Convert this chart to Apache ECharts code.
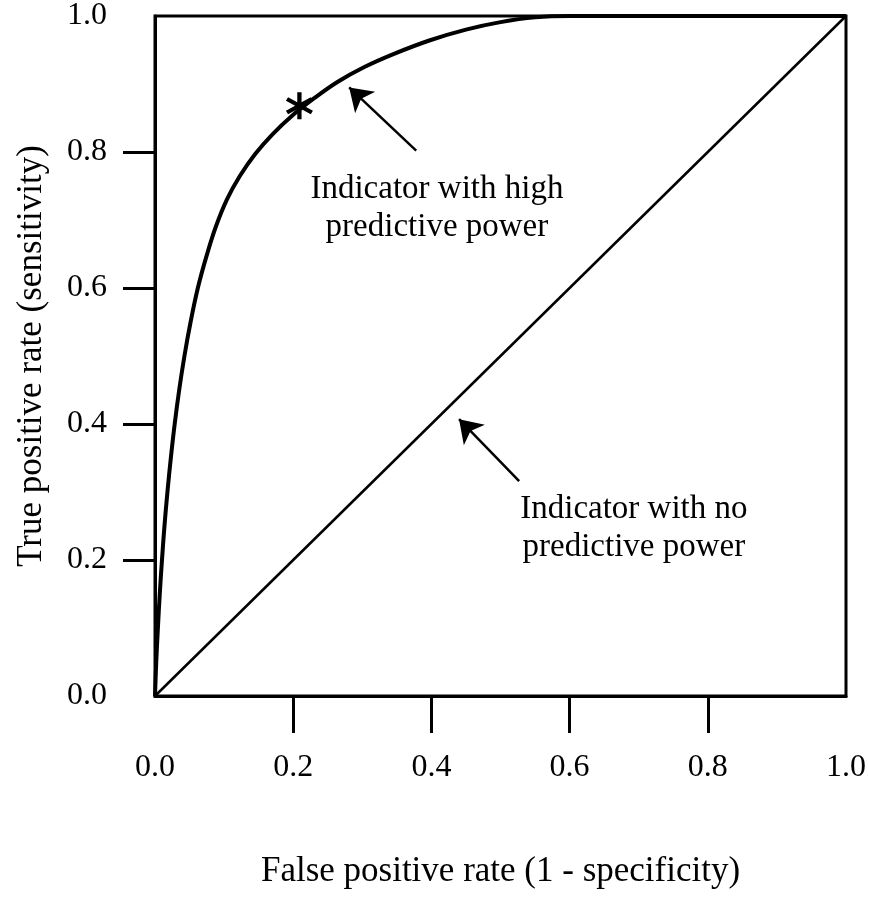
<!DOCTYPE html>
<html>
<head>
<meta charset="utf-8">
<script src="https://cdn.jsdelivr.net/npm/echarts@6/dist/echarts.min.js"></script>
<style>
  html, body { margin: 0; padding: 0; background: #fff; }
  #main { width: 869px; height: 900px; }
</style>
</head>
<body>
<div id="main"></div>
<script>
// ROC curve
const fprHigh = [0, 0.0018, 0.0042, 0.0069, 0.0101, 0.0137, 0.018, 0.0229, 0.0285, 0.035, 0.0426, 0.0515, 0.062, 0.074, 0.088, 0.104, 0.123, 0.145, 0.170, 0.198, 0.229, 0.264, 0.303, 0.345, 0.397, 0.45, 0.50, 0.55, 0.60, 0.80, 1.0];
const tprHigh = [0, 0.05, 0.10, 0.15, 0.20, 0.25, 0.30, 0.35, 0.40, 0.45, 0.50, 0.55, 0.60, 0.645, 0.69, 0.73, 0.765, 0.797, 0.826, 0.853, 0.878, 0.903, 0.925, 0.944, 0.964, 0.980, 0.991, 0.998, 1.0, 1.0, 1.0];
// no predictive power
const fprNone = [0, 1];
const tprNone = [0, 1];
// chosen cut-off point (asterisk)
const cutPoint = [0.209, 0.868];
// annotations: text and arrows
const noteTexts = ['Indicator with high\npredictive power', 'Indicator with no\npredictive power'];
const notePos = [[0.408, 0.717], [0.693, 0.247]];
const arrowFrom = [[0.378, 0.802], [0.527, 0.316]];
const arrowTo = [[0.281, 0.895], [0.440, 0.407]];
const tickLabels = [0, 0.2, 0.4, 0.6, 0.8, 1.0];
const tickMarks = [0.2, 0.4, 0.6, 0.8];

const font = 'Liberation Serif';
const asterisk = 'path://M-1.5,-10L1.5,-10L1.5,10L-1.5,10Z' +
  'M-9.41,-3.7L-7.91,-6.3L9.41,3.7L7.91,6.3Z' +
  'M-7.91,6.3L-9.41,3.7L7.91,-6.3L9.41,-3.7Z';

let chart = echarts.init(document.getElementById('main'));

function axis(name, gap, margin, tickLen) {
  return {
    type: 'value',
    min: 0,
    max: 1,
    interval: 0.2,
    name: name,
    nameLocation: 'middle',
    nameGap: gap,
    nameTextStyle: { fontSize: 35, color: '#000', fontFamily: font },
    axisLine: { show: true, lineStyle: { color: '#000', width: 3 } },
    axisTick: { show: true, length: tickLen, customValues: tickMarks, lineStyle: { color: '#000', width: 3 } },
    axisLabel: {
      customValues: tickLabels,
      margin: margin,
      fontSize: 32,
      color: '#000',
      fontFamily: font,
      formatter: v => v.toFixed(1)
    },
    splitLine: { show: false }
  };
}

let option = {
  animation: false,
  backgroundColor: '#fff',
  textStyle: { fontFamily: font },
  grid: {
    left: 155, top: 13, right: 21, bottom: 204,
    show: true, borderColor: '#000', borderWidth: 3
  },
  xAxis: axis('False positive rate (1 - specificity)', 158, 56, 37),
  yAxis: axis('True positive rate (sensitivity)', 106, 48, 32),
  series: [
    {
      type: 'line',
      data: fprNone.map((x, i) => [x, tprNone[i]]),
      symbol: 'none',
      lineStyle: { color: '#000', width: 2.5 }
    },
    {
      type: 'line',
      data: fprHigh.map((x, i) => [x, tprHigh[i]]),
      symbol: 'none',
      smooth: 0.4,
      lineStyle: { color: '#000', width: 4 }
    },
    {
      type: 'scatter',
      data: [cutPoint],
      symbol: asterisk,
      symbolSize: 27,
      itemStyle: { color: '#000', opacity: 1 },
      silent: true
    },
    {
      type: 'lines',
      coordinateSystem: 'cartesian2d',
      data: arrowFrom.map((p, i) => ({ coords: [p, arrowTo[i]] })),
      symbol: ['none', 'arrow'],
      symbolSize: 22,
      lineStyle: { color: '#000', width: 2.5, opacity: 1 },
      silent: true
    },
    {
      type: 'scatter',
      data: noteTexts.map((t, i) => ({ name: t, value: notePos[i] })),
      symbolSize: 0,
      silent: true,
      itemStyle: { opacity: 1 },
      label: {
        show: true,
        position: 'inside',
        formatter: p => p.name,
        fontSize: 33,
        lineHeight: 38,
        color: '#000',
        opacity: 1,
        fontFamily: font,
        align: 'center'
      }
    }
  ]
};
chart.setOption(option);
</script>
</body>
</html>
